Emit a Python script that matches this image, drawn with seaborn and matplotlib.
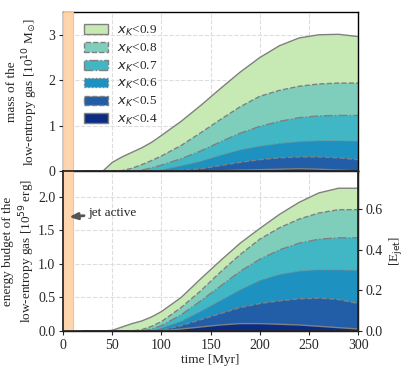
import numpy as np
import matplotlib
matplotlib.use("Agg")
import matplotlib.pyplot as plt
import seaborn as sns
from matplotlib.patches import Patch

# === DATA ===
time = [20, 30, 40, 50, 60, 70, 80, 90, 100, 120, 140, 160, 180, 200, 220, 240, 260, 280, 300]
levels = ["0.9", "0.8", "0.7", "0.6", "0.5", "0.4"]

# cumulative mass of gas below each x_K threshold [1e10 Msun]
mass_09 = [0, 0, 0.0, 0.20, 0.32, 0.42, 0.52, 0.64, 0.79, 1.10, 1.45, 1.82, 2.18, 2.50, 2.76, 2.93, 3.00, 3.01, 2.96]
mass_08 = [0, 0, 0, 0.0, 0.02, 0.07, 0.15, 0.24, 0.34, 0.57, 0.85, 1.14, 1.42, 1.65, 1.78, 1.87, 1.92, 1.94, 1.94]
mass_07 = [0, 0, 0, 0, 0, 0.0, 0.03, 0.08, 0.14, 0.28, 0.45, 0.65, 0.84, 0.99, 1.10, 1.18, 1.22, 1.23, 1.23]
mass_06 = [0, 0, 0, 0, 0, 0, 0, 0.0, 0.03, 0.12, 0.22, 0.35, 0.47, 0.55, 0.61, 0.65, 0.67, 0.67, 0.66]
mass_05 = [0, 0, 0, 0, 0, 0, 0, 0, 0.0, 0.03, 0.06, 0.13, 0.20, 0.26, 0.30, 0.32, 0.32, 0.30, 0.26]
mass_04 = [0, 0, 0, 0, 0, 0, 0, 0, 0, 0.0, 0.0, 0.015, 0.03, 0.04, 0.05, 0.06, 0.05, 0.03, 0.01]

# cumulative energy budget [1e59 erg]
energy_09 = [0, 0, 0, 0.01, 0.06, 0.11, 0.15, 0.21, 0.29, 0.50, 0.78, 1.05, 1.31, 1.53, 1.74, 1.92, 2.06, 2.13, 2.13]
energy_08 = [0, 0, 0, 0, 0, 0.0, 0.02, 0.07, 0.14, 0.35, 0.60, 0.88, 1.14, 1.37, 1.54, 1.67, 1.76, 1.81, 1.81]
energy_07 = [0, 0, 0, 0, 0, 0, 0.0, 0.03, 0.08, 0.24, 0.45, 0.67, 0.89, 1.07, 1.21, 1.31, 1.37, 1.39, 1.39]
energy_06 = [0, 0, 0, 0, 0, 0, 0, 0.0, 0.04, 0.14, 0.29, 0.45, 0.61, 0.75, 0.84, 0.89, 0.91, 0.91, 0.90]
energy_05 = [0, 0, 0, 0, 0, 0, 0, 0.0, 0.01, 0.08, 0.17, 0.26, 0.35, 0.41, 0.45, 0.48, 0.49, 0.47, 0.41]
energy_04 = [0, 0, 0, 0, 0, 0, 0, 0, 0.0, 0.03, 0.06, 0.09, 0.11, 0.11, 0.10, 0.09, 0.07, 0.05, 0.03]

E_JET = 3.03  # 1e59 erg per jet energy unit

# === SETTINGS ===
sns.set_theme(style="ticks")
plt.rcParams["font.family"] = ["Liberation Serif", "DejaVu Serif"]
plt.rcParams["mathtext.fontset"] = "dejavusans"
plt.rcParams["font.size"] = 10

colors = ["#c7e9b4", "#7fcdbb", "#41b6c4", "#1d91c0", "#225ea8", "#0c2c84"]
styles = ["-", "--", "-.", ":", "--", "-"]
masses = [mass_09, mass_08, mass_07, mass_06, mass_05, mass_04]
energies = [energy_09, energy_08, energy_07, energy_06, energy_05, energy_04]

fig, (ax1, ax2) = plt.subplots(2, 1, figsize=(4.07, 3.74), dpi=100, sharex=True)
fig.subplots_adjust(left=0.155, right=0.88, bottom=0.115, top=0.968, hspace=0)


def draw_stack(ax, series):
    for vals, col, ls in zip(series, colors, styles):
        ax.fill_between(time, 0, vals, facecolor=col, edgecolor="none")
        sns.lineplot(x=time, y=vals, ax=ax, color="gray", linestyle=ls,
                     linewidth=1.0, legend=False)
    ax.axvspan(0, 10, facecolor="#ffd5ad", edgecolor="#fdbf8a", lw=0.8, zorder=3)
    ax.grid(True, linestyle="--", color="#dddddd", linewidth=0.8)
    ax.set_axisbelow(True)
    ax.tick_params(labelsize=10, length=3, width=0.8, pad=2.5)
    for s in ax.spines.values():
        s.set_linewidth(1.0)
        s.set_color("black")


draw_stack(ax1, masses)
draw_stack(ax2, energies)

# legend with dashed patch edges
handles = [Patch(facecolor=c, edgecolor="gray", linestyle=ls, linewidth=1.0)
           for c, ls in zip(colors, styles)]
ax1.legend(handles, [f"$x_K$<{lev}" for lev in levels], loc="upper left",
           bbox_to_anchor=(0.03, 1.0), frameon=False, fontsize=9.5,
           handlelength=1.8, handleheight=0.75, labelspacing=0.28, handletextpad=0.7)

ax1.set_xlim(0, 300)
ax1.set_ylim(0, 3.5)
ax1.set_yticks([0, 1, 2, 3])
ax1.set_ylabel("mass of the\nlow-entropy gas [10$^{10}$ M$_{\\odot}$]", fontsize=9.5, labelpad=6)
ax1.tick_params(labelbottom=False)

ax2.set_ylim(0, 2.38)
ax2.set_yticks([0.0, 0.5, 1.0, 1.5, 2.0])
ax2.set_yticklabels(["0.0", "0.5", "1.0", "1.5", "2.0"])
ax2.set_xticks([0, 50, 100, 150, 200, 250, 300])
ax2.set_xlabel("time [Myr]", fontsize=9.5, labelpad=2)
ax2.set_ylabel("energy budget of the\nlow-entropy gas [10$^{59}$ erg]", fontsize=9.5, labelpad=1)

ax3 = ax2.twinx()
ax3.set_ylim(0, 2.38 / E_JET)
ax3.set_yticks([0.0, 0.2, 0.4, 0.6])
ax3.set_yticklabels(["0.0", "0.2", "0.4", "0.6"])
ax3.set_ylabel("[E$_{\\rm jet}$]", fontsize=9.5, labelpad=3)
ax3.tick_params(labelsize=10, length=3, width=0.8, pad=2.5)

ax2.annotate("jet active", xy=(6, 1.7), xytext=(26, 1.76), fontsize=9.5,
             va="center", ha="left", zorder=5,
             arrowprops=dict(arrowstyle="-|>,head_width=0.2,head_length=0.5",
                             color="#555555", lw=2.0, shrinkA=1, shrinkB=0))

plt.savefig("out.png", dpi=100)
